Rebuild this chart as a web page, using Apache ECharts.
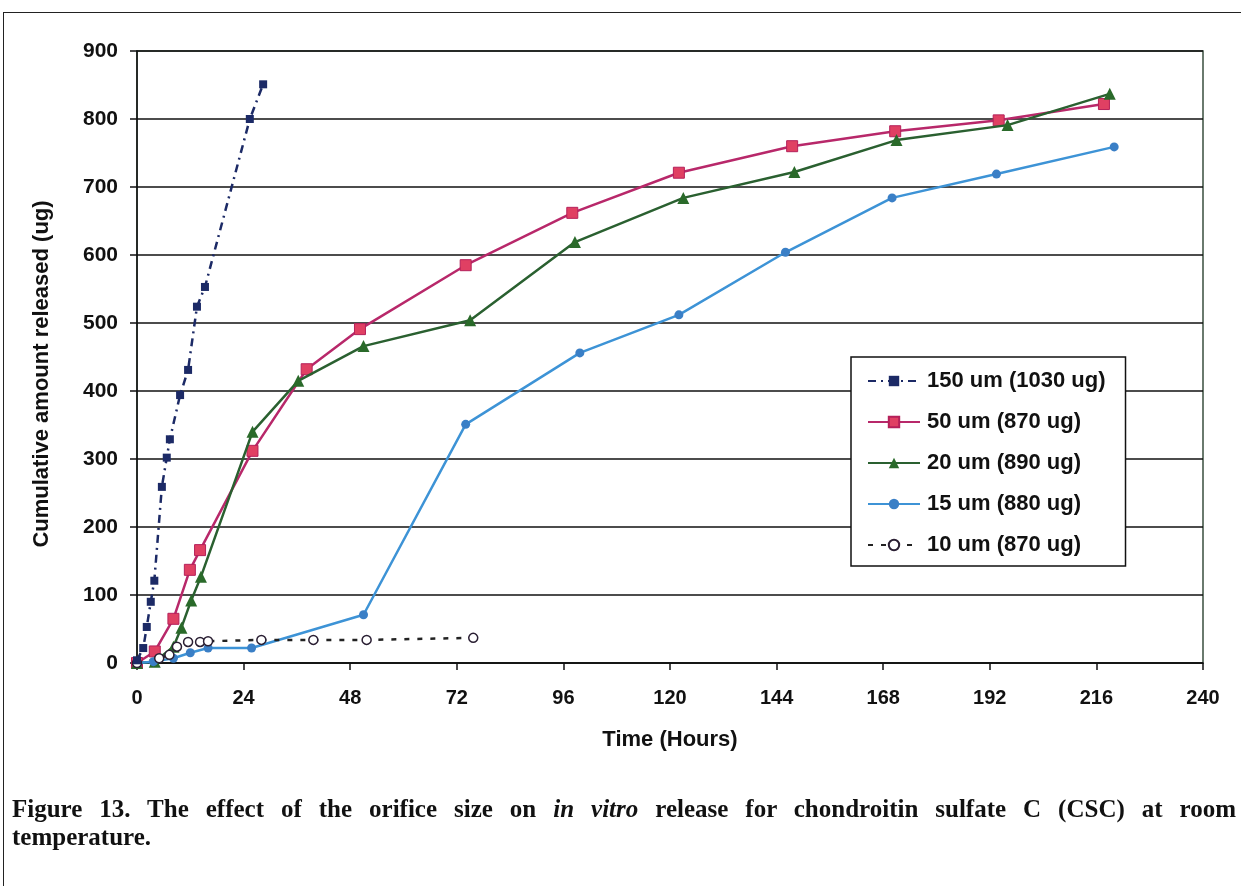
<!DOCTYPE html>
<html>
<head>
<meta charset="utf-8">
<script src="https://cdn.jsdelivr.net/npm/echarts@6/dist/echarts.min.js"></script>
<style>
  html, body { margin: 0; padding: 0; background: #fff; }
  #chart { position: absolute; left: 0; top: 0; width: 1241px; height: 886px; }
  #frame { position: absolute; left: 3px; top: 12px; width: 1300px; height: 900px;
           border-top: 1.5px solid #222; border-left: 1.5px solid #222; }
  #caption { position: absolute; left: 12px; top: 795px; width: 1224px;
             font-family: "Liberation Serif", "DejaVu Serif", serif; font-weight: bold;
             font-size: 25px; line-height: 28px; color: #111; }
  #caption .l1 { text-align: justify; text-align-last: justify; white-space: nowrap; }
</style>
</head>
<body>
<div id="frame"></div>
<div id="chart"></div>
<div id="caption"><div class="l1">Figure 13. The effect of the orifice size on <i>in vitro</i> release for chondroitin sulfate C (CSC) at room</div><div>temperature.</div></div>
<script>
// ---- data (hours, cumulative ug) ----
const xTicks = [0, 24, 48, 72, 96, 120, 144, 168, 192, 216, 240];
const yTicks = [0, 100, 200, 300, 400, 500, 600, 700, 800, 900];

const seriesNames = ['150 um (1030 ug)', '50 um (870 ug)', '20 um (890 ug)', '15 um (880 ug)', '10 um (870 ug)'];

const hours150 = [0, 1.4, 2.2, 3.1, 3.9, 5.6, 6.7, 7.4, 9.7, 11.5, 13.5, 15.3, 25.4, 28.4];
const ug150    = [4, 22, 53, 90, 121, 259, 302, 329, 394, 431, 524, 553, 800, 851];

const hours50 = [0, 4, 8.2, 11.9, 14.2, 26, 38.2, 50.2, 74, 98, 122, 147.5, 170.7, 194, 217.7];
const ug50    = [0, 17, 65, 137, 166, 312, 432, 491, 585, 662, 721, 760, 782, 798, 822];

const hours20 = [0, 4, 8.2, 10, 12.2, 14.4, 26, 36.3, 51, 75, 98.6, 123, 148, 171, 196, 219];
const ug20    = [0, 2, 24, 52, 92, 127, 340, 415, 466, 504, 619, 684, 722, 769, 791, 837];

const hours15 = [0, 3.7, 8.2, 12, 16, 25.8, 51, 74, 99.7, 122, 146, 170, 193.5, 220];
const ug15    = [0, 2, 7, 15, 22, 22, 71, 351, 456, 512, 604, 684, 719, 759];

const hours10 = [0, 5, 7.3, 9, 11.5, 14.2, 16, 28, 39.7, 51.7, 75.7];
const ug10    = [0, 7, 12, 24, 31, 31, 32, 34, 34, 34, 37];

function pairs(xs, ys) { return xs.map((x, i) => [x, ys[i]]); }

const chart = echarts.init(document.getElementById('chart'), null, { renderer: 'canvas' });
const font = '"Liberation Sans", Arial, sans-serif';

const option = {
  backgroundColor: 'transparent',
  animation: false,
  grid: { left: 137, right: 38, top: 51, bottom: 223, show: true, borderColor: '#3a4f3f', borderWidth: 1.5, backgroundColor: 'transparent' },
  xAxis: {
    type: 'value', min: 0, max: 240, interval: 24,
    name: 'Time (Hours)', nameLocation: 'middle', nameGap: 66,
    nameTextStyle: { fontFamily: font, fontWeight: 'bold', fontSize: 22, color: '#111' },
    axisLine: { show: true, onZero: false, lineStyle: { color: '#111', width: 1.5 } },
    axisTick: { show: true, inside: false, length: 7, lineStyle: { color: '#111', width: 1.5 } },
    axisLabel: { fontFamily: font, fontWeight: 'bold', fontSize: 20, color: '#111', margin: 25 },
    splitLine: { show: false }
  },
  yAxis: {
    type: 'value', min: 0, max: 900, interval: 100,
    name: 'Cumulative amount released (ug)', nameLocation: 'middle', nameGap: 84, nameRotate: 90,
    nameTextStyle: { fontFamily: font, fontWeight: 'bold', fontSize: 22, color: '#111', padding: [0, 34, 0, 0] },
    axisLine: { show: true, lineStyle: { color: '#111', width: 1.5 } },
    axisTick: { show: true, inside: false, length: 7, lineStyle: { color: '#111', width: 1.5 } },
    axisLabel: { fontFamily: font, fontWeight: 'bold', fontSize: 21, color: '#111', margin: 19 },
    splitLine: { show: true, lineStyle: { color: '#111', width: 1.5 } }
  },
  legend: {
    orient: 'vertical', left: 851, top: 357,
    backgroundColor: '#fff', borderColor: '#111', borderWidth: 1.5,
    padding: [13, 20, 10, 16], itemGap: 19, itemWidth: 52, itemHeight: 13,
    textStyle: { fontFamily: font, fontWeight: 'bold', fontSize: 22, color: '#111', padding: [0, 0, 0, 2] },
    data: seriesNames
  },
  series: [
    {
      name: seriesNames[0], type: 'line', data: pairs(hours150, ug150), z: 5,
      symbol: 'rect', symbolSize: 8,
      itemStyle: { color: '#1c2a66' },
      lineStyle: { color: '#1c2a66', width: 2.5, type: [8, 5, 2, 5] }
    },
    {
      name: seriesNames[1], type: 'line', data: pairs(hours50, ug50), z: 3,
      symbol: 'rect', symbolSize: 11,
      itemStyle: { color: '#e04063', borderColor: '#b5205a', borderWidth: 1 },
      lineStyle: { color: '#b8286a', width: 2.5 }
    },
    {
      name: seriesNames[2], type: 'line', data: pairs(hours20, ug20), z: 4,
      symbol: 'triangle', symbolSize: 12,
      itemStyle: { color: '#2a6a2a' },
      lineStyle: { color: '#2a6030', width: 2.5 }
    },
    {
      name: seriesNames[3], type: 'line', data: pairs(hours15, ug15), z: 4,
      symbol: 'circle', symbolSize: 9,
      itemStyle: { color: '#3a7fc6' },
      lineStyle: { color: '#3d93d6', width: 2.5 }
    },
    {
      name: seriesNames[4], type: 'line', data: pairs(hours10, ug10), z: 4,
      symbol: 'circle', symbolSize: 9,
      itemStyle: { color: '#fff', borderColor: '#2a1f33', borderWidth: 1.5 },
      lineStyle: { color: '#222', width: 2.5, type: [5, 8] }
    }
  ]
};
chart.setOption(option);
</script>
</body>
</html>
